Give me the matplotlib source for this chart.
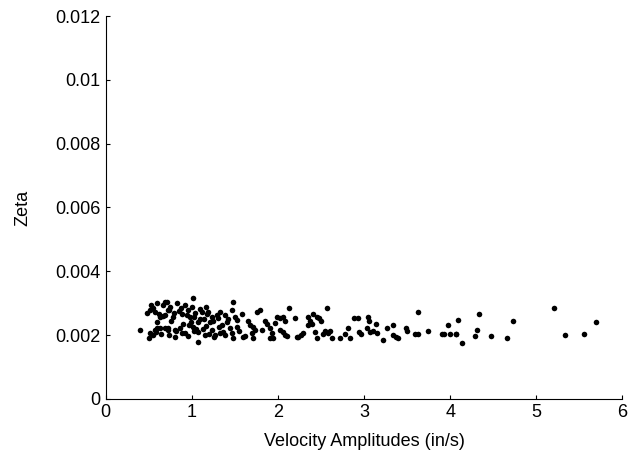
import matplotlib.pyplot as plt

vel = [0.40, 0.48, 0.51, 0.53, 0.57, 0.60, 0.63, 0.69, 0.60, 0.69, 0.72,
       0.51, 0.57, 0.60, 0.63, 0.69, 0.72, 0.50, 0.55, 0.66,
       0.71, 0.73, 0.83, 0.85, 0.78, 0.92, 0.95, 1.01, 0.98, 1.03, 1.07,
       1.12, 1.17, 1.19, 1.23, 1.21, 1.30, 1.33, 1.38, 1.41, 1.47,
       0.72, 0.80, 0.86, 0.92, 1.07, 1.07, 1.23, 1.27, 1.33, 1.38, 1.47,
       1.01, 1.15, 0.88, 0.76, 0.97, 1.10, 0.82, 0.90, 1.05,
       1.48, 1.58, 1.50, 1.52, 1.44, 1.65, 1.71, 1.73, 1.70, 1.76, 1.79,
       1.85, 1.87, 1.91, 1.93, 1.99, 2.02, 2.06, 2.08, 2.13, 2.02, 2.06,
       2.08, 2.22, 1.48, 1.59, 1.71, 1.91, 1.94,
       2.20, 2.35, 2.37, 2.35, 2.41, 2.45, 2.48, 2.50, 2.57, 2.23, 2.29,
       2.43, 2.45, 2.52, 2.55, 2.58, 2.63, 2.72, 2.78, 2.81, 2.84, 2.88,
       2.93, 2.94, 2.97, 3.03, 3.05, 3.06, 3.07,
       3.10, 3.14, 3.15, 3.22, 3.27, 3.34, 3.34, 3.37, 3.40, 3.49, 3.50,
       3.59, 3.63, 3.63, 3.74, 3.90, 3.93, 3.97, 4.00, 4.07,
       4.09, 4.33, 4.31, 4.07, 4.14, 4.29, 4.47, 4.66, 4.73, 5.21, 5.33,
       5.56, 5.69,
       0.55, 0.62, 0.67, 0.75, 0.79, 0.87, 0.94, 1.00, 1.04, 1.09,
       1.14, 1.18, 1.25, 1.29, 1.35, 1.42, 0.58, 0.64, 0.74, 0.81,
       0.89, 0.96, 1.02, 1.13, 1.20, 1.26, 1.36, 1.55, 1.62, 1.68,
       1.82, 1.96, 2.11, 2.27, 2.39, 2.60, 0.99, 1.16, 1.31, 1.53]
zeta = [0.00216, 0.00270, 0.00279, 0.00295, 0.00273, 0.00301, 0.00257, 0.00263, 0.00241, 0.00304, 0.00279,
        0.00207, 0.00216, 0.00223, 0.00223, 0.00223, 0.00216, 0.00191, 0.00201, 0.00260,
        0.00304, 0.00279, 0.00301, 0.00276, 0.00257, 0.00295, 0.00279, 0.00317, 0.00257, 0.00257, 0.00241,
        0.00273, 0.00288, 0.00273, 0.00257, 0.00241, 0.00254, 0.00273, 0.00263, 0.00241, 0.00279,
        0.00223, 0.00216, 0.00223, 0.00207, 0.00210, 0.00179, 0.00216, 0.00201, 0.00207, 0.00201, 0.00207,
        0.00226, 0.00201, 0.00266, 0.00245, 0.00232, 0.00251, 0.00213, 0.00235, 0.00220,
        0.00304, 0.00266, 0.00257, 0.00226, 0.00223, 0.00245, 0.00226, 0.00216, 0.00207, 0.00273, 0.00279,
        0.00245, 0.00235, 0.00223, 0.00207, 0.00257, 0.00254, 0.00257, 0.00245, 0.00285, 0.00216, 0.00210,
        0.00201, 0.00194, 0.00191, 0.00194, 0.00191, 0.00191, 0.00191,
        0.00254, 0.00257, 0.00245, 0.00232, 0.00266, 0.00257, 0.00254, 0.00245, 0.00285, 0.00194, 0.00207,
        0.00210, 0.00191, 0.00204, 0.00213, 0.00207, 0.00191, 0.00191, 0.00204, 0.00223, 0.00191, 0.00254,
        0.00254, 0.00210, 0.00204, 0.00223, 0.00257, 0.00245, 0.00210,
        0.00213, 0.00235, 0.00207, 0.00185, 0.00223, 0.00232, 0.00201, 0.00194, 0.00191, 0.00223, 0.00213,
        0.00204, 0.00204, 0.00273, 0.00213, 0.00204, 0.00204, 0.00232, 0.00204, 0.00204,
        0.00248, 0.00266, 0.00216, 0.00204, 0.00176, 0.00198, 0.00198, 0.00191, 0.00245, 0.00285, 0.00201,
        0.00204, 0.00241,
        0.00285, 0.00266, 0.00295, 0.00288, 0.00270, 0.00285, 0.00263, 0.00288, 0.00270, 0.00282,
        0.00251, 0.00266, 0.00245, 0.00263, 0.00232, 0.00251, 0.00210, 0.00204, 0.00201, 0.00194,
        0.00207, 0.00198, 0.00213, 0.00220, 0.00204, 0.00194, 0.00210, 0.00213, 0.00198, 0.00232,
        0.00216, 0.00238, 0.00198, 0.00201, 0.00235, 0.00213, 0.00241, 0.00229, 0.00226, 0.00248]

x_ticks = [0, 1, 2, 3, 4, 5, 6]
y_ticks = [0, 0.002, 0.004, 0.006, 0.008, 0.01, 0.012]
y_tick_labels = ["0", "0.002", "0.004", "0.006", "0.008", "0.01", "0.012"]

plt.rcParams["font.family"] = ["Liberation Sans", "DejaVu Sans"]

fig = plt.figure(figsize=(6.37, 4.58), dpi=100)
ax = fig.add_axes([0.166, 0.129, 0.811, 0.836])
ax.plot(vel, zeta, "o", color="black", markersize=4.0, markeredgewidth=0)

ax.set_xlim(0, 6)
ax.set_ylim(0, 0.012)
ax.set_xticks(x_ticks)
ax.set_yticks(y_ticks)
ax.set_yticklabels(y_tick_labels)
ax.tick_params(direction="in", length=3, labelsize=13, width=0.8, pad=4)
ax.spines["top"].set_visible(False)
ax.spines["right"].set_visible(False)
ax.set_xlabel("Velocity Amplitudes (in/s)", fontsize=13, labelpad=8)
ax.set_ylabel("Zeta", fontsize=13, labelpad=17)

fig.savefig("out.png", dpi=100)
